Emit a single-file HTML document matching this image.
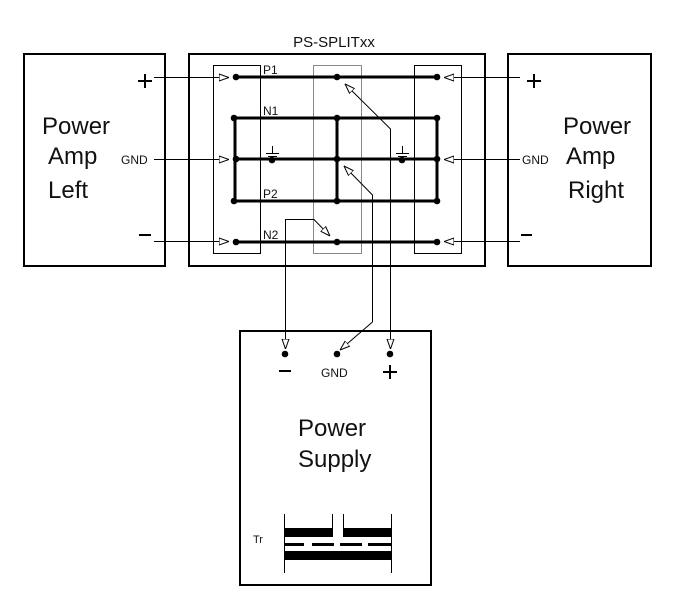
<!DOCTYPE html>
<html><head><meta charset="utf-8"><style>
html,body{margin:0;padding:0;background:#fff;width:673px;height:608px;overflow:hidden}
svg{display:block}
text{font-family:"Liberation Sans",sans-serif;fill:#111}
</style></head><body>
<svg width="673" height="608" viewBox="0 0 673 608" xmlns="http://www.w3.org/2000/svg">
<defs>
<marker id="ah" viewBox="0 0 10 8" refX="10" refY="4" markerWidth="10" markerHeight="8" markerUnits="userSpaceOnUse" orient="auto">
<path d="M0,0.5 L10,4 L0,7.5 Z" fill="#fff" stroke="#000" stroke-width="1"/>
</marker>
</defs>
<rect x="24" y="54" width="141" height="212" fill="none" stroke="#000" stroke-width="2"/>
<rect x="189" y="54" width="296" height="212" fill="none" stroke="#000" stroke-width="2"/>
<rect x="508" y="54" width="143" height="212" fill="none" stroke="#000" stroke-width="2"/>
<rect x="240" y="331" width="191" height="254" fill="none" stroke="#000" stroke-width="2"/>
<rect x="213.5" y="65.5" width="47" height="188" fill="none" stroke="#000" stroke-width="1"/>
<rect x="313.5" y="65.5" width="48" height="188" fill="none" stroke="#888" stroke-width="1"/>
<rect x="414.5" y="65.5" width="47" height="188" fill="none" stroke="#000" stroke-width="1"/>
<text x="334" y="47" font-size="15" text-anchor="middle">PS-SPLITxx</text>
<g stroke="#000" stroke-width="1" fill="none">
<line x1="154" y1="77.5" x2="229" y2="77.5" marker-end="url(#ah)"/>
<line x1="154" y1="159.5" x2="229" y2="159.5" marker-end="url(#ah)"/>
<line x1="154" y1="241.5" x2="229" y2="241.5" marker-end="url(#ah)"/>
<line x1="520" y1="77.5" x2="444" y2="77.5" marker-end="url(#ah)"/>
<line x1="520" y1="159.5" x2="444" y2="159.5" marker-end="url(#ah)"/>
<line x1="520" y1="241.5" x2="444" y2="241.5" marker-end="url(#ah)"/>
</g>
<g stroke="#000" stroke-width="3" fill="none">
<line x1="236" y1="77" x2="437" y2="77"/>
<line x1="235" y1="118" x2="437" y2="118"/>
<line x1="236" y1="159" x2="437" y2="159"/>
<line x1="235" y1="201" x2="437" y2="201"/>
<line x1="236" y1="242" x2="437" y2="242"/>
<line x1="235" y1="118" x2="235" y2="201"/>
<line x1="337" y1="118" x2="337" y2="201"/>
<line x1="437" y1="118" x2="437" y2="201"/>
</g>
<g fill="#000">
<circle cx="236" cy="77" r="3.3"/><circle cx="337" cy="77" r="3.3"/><circle cx="437" cy="77" r="3.3"/>
<circle cx="234" cy="118" r="3.3"/><circle cx="337" cy="118" r="3.3"/><circle cx="437" cy="118" r="3.3"/>
<circle cx="236" cy="159" r="3.3"/><circle cx="272" cy="160" r="3.3"/><circle cx="337" cy="159" r="3.3"/><circle cx="402" cy="160" r="3.3"/><circle cx="437" cy="159" r="3.3"/>
<circle cx="234" cy="201" r="3.3"/><circle cx="337" cy="201" r="3.3"/><circle cx="437" cy="201" r="3.3"/>
<circle cx="236" cy="242" r="3.3"/><circle cx="337" cy="242" r="3.3"/><circle cx="437" cy="242" r="3.3"/>
<circle cx="285" cy="354" r="3.3"/><circle cx="337" cy="354" r="3.3"/><circle cx="390" cy="354" r="3.3"/>
</g>
<g stroke="#000" stroke-width="1">
<line x1="272.5" y1="146" x2="272.5" y2="153"/><line x1="266" y1="153.5" x2="279" y2="153.5"/><line x1="268" y1="156.5" x2="277" y2="156.5"/>
<line x1="402.5" y1="146" x2="402.5" y2="153"/><line x1="396" y1="153.5" x2="409" y2="153.5"/><line x1="398" y1="156.5" x2="407" y2="156.5"/>
</g>
<g font-size="12">
<text x="263" y="74">P1</text><text x="263" y="115">N1</text><text x="263" y="198">P2</text><text x="263" y="239">N2</text>
</g>
<g stroke="#000" stroke-width="1" fill="none">
<polyline points="390.5,345 390.5,129 345,84" marker-end="url(#ah)"/>
<polyline points="372.5,322 372.5,195 344,166" marker-end="url(#ah)"/>
<polyline points="372.5,322 340,350" marker-end="url(#ah)"/>
<polyline points="285.5,346 285.5,219.5 314,219.5 330,236" marker-end="url(#ah)"/>
<line x1="390.5" y1="330" x2="390.5" y2="349" marker-end="url(#ah)"/>
<line x1="285.5" y1="330" x2="285.5" y2="349" marker-end="url(#ah)"/>
</g>
<g font-size="24">
<text x="42" y="134">Power</text><text x="48" y="164">Amp</text><text x="48" y="198">Left</text>
<text x="563" y="134">Power</text><text x="566" y="164">Amp</text><text x="568" y="198">Right</text>
<text x="298" y="436">Power</text><text x="298" y="467">Supply</text>
</g>
<g font-size="12"><text x="121" y="164">GND</text><text x="522" y="164">GND</text><text x="321" y="377">GND</text><text x="253" y="543" font-size="11">Tr</text></g>
<g stroke="#000" stroke-width="2">
<line x1="138" y1="81" x2="152" y2="81"/><line x1="145" y1="74" x2="145" y2="88"/>
<line x1="139" y1="235" x2="151" y2="235"/>
<line x1="527" y1="81" x2="541" y2="81"/><line x1="534" y1="74" x2="534" y2="88"/>
<line x1="521" y1="235" x2="532" y2="235"/>
<line x1="279" y1="371" x2="291" y2="371"/>
<line x1="383" y1="372" x2="397" y2="372"/><line x1="390" y1="365" x2="390" y2="379"/>
</g>
<g stroke="#000" stroke-width="1">
<line x1="284.5" y1="514" x2="284.5" y2="573"/><line x1="332.5" y1="514" x2="332.5" y2="537"/>
<line x1="343.5" y1="514" x2="343.5" y2="537"/><line x1="391.5" y1="514" x2="391.5" y2="573"/>
</g>
<g fill="#000">
<rect x="284" y="528" width="49" height="9"/><rect x="343" y="528" width="49" height="9"/>
<rect x="284" y="551" width="108" height="9"/>
<rect x="284" y="543" width="20" height="3"/><rect x="312" y="543" width="22" height="3"/><rect x="340" y="543" width="22" height="3"/><rect x="368" y="543" width="23" height="3"/>
</g>
</svg>
</body></html>
